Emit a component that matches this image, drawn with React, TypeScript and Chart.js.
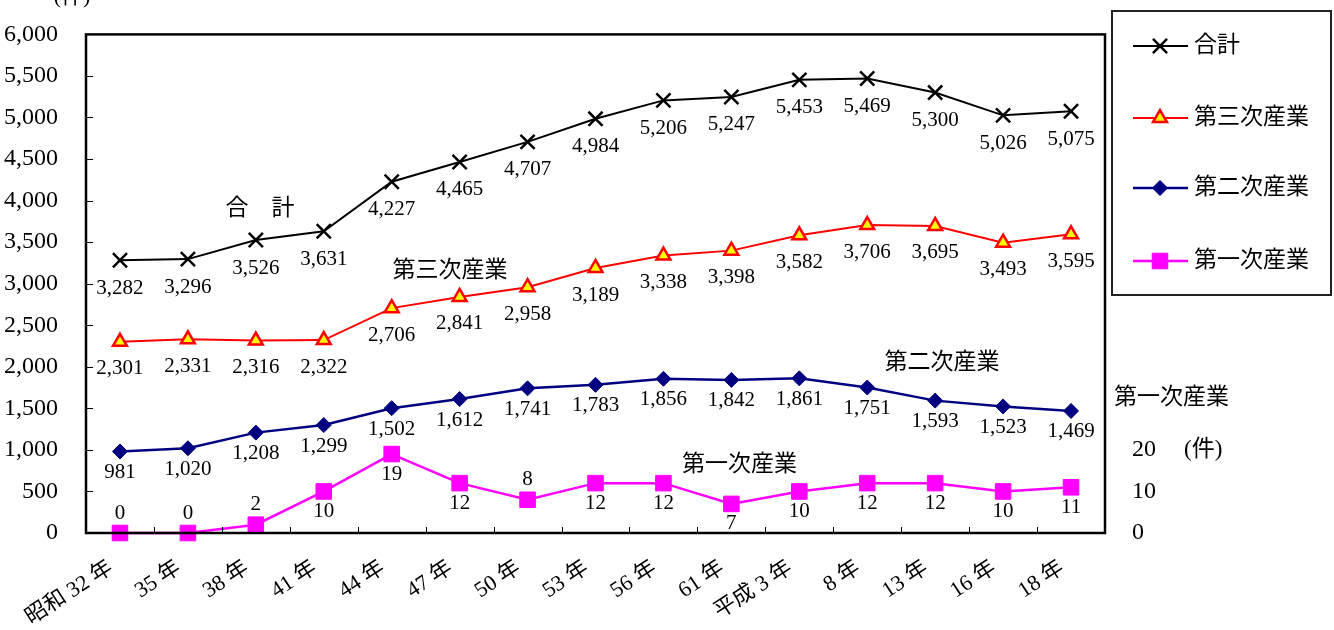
import React, { useEffect, useRef } from 'react';
import { Chart, registerables } from 'chart.js';
import { drawPoint } from 'chart.js/helpers';

Chart.register(...registerables);

const FONT = "'Liberation Serif', 'Noto Sans CJK JP', serif";

const categories = ['昭和 32 年', '35 年', '38 年', '41 年', '44 年', '47 年', '50 年', '53 年', '56 年', '61 年', '平成 3 年', '8 年', '13 年', '16 年', '18 年'];
const seriesNames = ['合計', '第三次産業', '第二次産業', '第一次産業'];
const totalValues = [3282, 3296, 3526, 3631, 4227, 4465, 4707, 4984, 5206, 5247, 5453, 5469, 5300, 5026, 5075];
const tertiaryValues = [2301, 2331, 2316, 2322, 2706, 2841, 2958, 3189, 3338, 3398, 3582, 3706, 3695, 3493, 3595];
const secondaryValues = [981, 1020, 1208, 1299, 1502, 1612, 1741, 1783, 1856, 1842, 1861, 1751, 1593, 1523, 1469];
const primaryValues = [0, 0, 2, 10, 19, 12, 8, 12, 12, 7, 10, 12, 12, 10, 11];
const leftAxisMax = 6000;
const leftAxisStep = 500;
const rightAxisMax = 120;
const rightAxisStep = 10;
const rightAxisShown = [0, 10, 20];
const rightAxisTitle = '第一次産業';
const unitLabel = '(件)';
const primaryLabelSide = ['above', 'above', 'above', 'below', 'below', 'below', 'above', 'below', 'below', 'below', 'below', 'below', 'below', 'below', 'below'];

// in-chart series name annotations, anchored in data space (category index, left-axis value)
const annotations = [
  { text: '合　計', index: 2.06, value: 3900 },
  { text: '第三次産業', index: 4.86, value: 3150 },
  { text: '第二次産業', index: 12.1, value: 2048 },
  { text: '第一次産業', index: 9.12, value: 814 },
];

const fmt = (v: number) => v.toLocaleString('en-US');

const framePlugin = {
  id: 'frame',
  afterDatasetsDraw(chart: any) {
    const { ctx, chartArea: a, scales } = chart;
    ctx.save();
    ctx.strokeStyle = '#000';
    ctx.lineWidth = 1;
    for (let v = leftAxisStep; v < leftAxisMax; v += leftAxisStep) {
      const y = Math.round(scales.y.getPixelForValue(v)) + 0.5;
      ctx.beginPath();
      ctx.moveTo(a.left, y);
      ctx.lineTo(a.left + 7, y);
      ctx.stroke();
    }
    for (let i = 0; i < categories.length - 1; i++) {
      const x = Math.round(scales.x.getPixelForValue(i + 0.5)) + 0.5;
      ctx.beginPath();
      ctx.moveTo(x, a.bottom);
      ctx.lineTo(x, a.bottom - 6);
      ctx.stroke();
    }
    ctx.lineWidth = 2.5;
    ctx.strokeRect(a.left, a.top, a.right - a.left, a.bottom - a.top);
    ctx.restore();
  },
};

const labelPlugin = {
  id: 'valueLabels',
  afterDatasetsDraw(chart: any) {
    const { ctx, scales } = chart;
    ctx.save();
    ctx.fillStyle = '#000';
    ctx.textAlign = 'center';
    ctx.textBaseline = 'middle';
    ctx.font = `21px ${FONT}`;
    chart.data.datasets.forEach((ds: any, di: number) => {
      const meta = chart.getDatasetMeta(di);
      meta.data.forEach((pt: any, i: number) => {
        const side = ds.labelSide ? ds.labelSide[i] : 'below';
        const off = side === 'above' ? -ds.labelAbove : ds.labelBelow;
        ctx.fillText(fmt(ds.data[i]), pt.x, pt.y + off);
      });
    });
    ctx.font = `23px ${FONT}`;
    annotations.forEach((an) => {
      ctx.fillText(an.text, scales.x.getPixelForValue(an.index), scales.y.getPixelForValue(an.value));
    });
    ctx.font = `22px ${FONT}`;
    ctx.textAlign = 'center';
    ctx.fillText(unitLabel, 72, -3);
    ctx.font = `23px ${FONT}`;
    ctx.textAlign = 'left';
    ctx.fillText(rightAxisTitle, 1114, scales.y1.getPixelForValue(32.5));
    ctx.fillText(unitLabel, 1184, scales.y1.getPixelForValue(20));
    ctx.restore();
  },
};

const legendPlugin = {
  id: 'boxLegend',
  afterDraw(chart: any) {
    const { ctx } = chart;
    ctx.save();
    ctx.strokeStyle = '#222';
    ctx.lineWidth = 2;
    ctx.strokeRect(1112, 11, 219, 284);
    const ys = [46, 118, 188, 261];
    chart.data.datasets.forEach((ds: any, i: number) => {
      const y = ys[i];
      ctx.strokeStyle = ds.borderColor;
      ctx.lineWidth = ds.borderWidth;
      ctx.beginPath();
      ctx.moveTo(1133, y);
      ctx.lineTo(1188, y);
      ctx.stroke();
      ctx.fillStyle = ds.pointBackgroundColor;
      ctx.strokeStyle = ds.pointBorderColor;
      ctx.lineWidth = ds.pointBorderWidth;
      drawPoint(ctx, { pointStyle: ds.pointStyle, radius: ds.pointRadius, borderWidth: ds.pointBorderWidth, rotation: 0 } as any, 1160, y);
      ctx.fillStyle = '#000';
      ctx.font = `23px ${FONT}`;
      ctx.textAlign = 'left';
      ctx.textBaseline = 'middle';
      ctx.fillText(ds.label, 1194, y);
    });
    ctx.restore();
  },
};

export default function App() {
  const ref = useRef<HTMLCanvasElement>(null);
  useEffect(() => {
    if (!ref.current) return;
    const chart = new Chart(ref.current, {
      type: 'line',
      data: {
        labels: categories,
        datasets: [
          {
            label: seriesNames[0], data: totalValues, yAxisID: 'y', clip: false,
            borderColor: '#000', borderWidth: 2, pointStyle: 'crossRot', pointRadius: 10,
            pointBorderColor: '#000', pointBackgroundColor: '#000', pointBorderWidth: 2.5,
            labelBelow: 28, labelAbove: 20,
          } as any,
          {
            label: seriesNames[1], data: tertiaryValues, yAxisID: 'y', clip: false,
            borderColor: '#ff0000', borderWidth: 2, pointStyle: 'triangle', pointRadius: 8,
            pointBorderColor: '#ff0000', pointBackgroundColor: '#ffff00', pointBorderWidth: 2.5,
            labelBelow: 27, labelAbove: 20,
          } as any,
          {
            label: seriesNames[2], data: secondaryValues, yAxisID: 'y', clip: false,
            borderColor: '#000080', borderWidth: 2.5, pointStyle: 'rectRot', pointRadius: 7.5,
            pointBorderColor: '#000080', pointBackgroundColor: '#000080', pointBorderWidth: 1,
            labelBelow: 21, labelAbove: 20,
          } as any,
          {
            label: seriesNames[3], data: primaryValues, yAxisID: 'y1', clip: false,
            borderColor: '#ff00ff', borderWidth: 2.5, pointStyle: 'rect', pointRadius: 11,
            pointBorderColor: '#ff00ff', pointBackgroundColor: '#ff00ff', pointBorderWidth: 1,
            labelBelow: 20, labelAbove: 20, labelSide: primaryLabelSide,
          } as any,
        ],
      },
      options: {
        responsive: false,
        animation: false,
        layout: { padding: { top: 32, left: 0, right: 0, bottom: 0 } },
        plugins: { legend: { display: false }, tooltip: { enabled: false } },
        elements: { line: { tension: 0 } },
        scales: {
          x: {
            offset: true,
            grid: { display: false },
            border: { display: false },
            ticks: {
              color: '#000', font: { family: FONT, size: 22 },
              minRotation: 33, maxRotation: 33, autoSkip: false, padding: 14, labelOffset: -9,
            },
            afterFit: (s: any) => { s.height = 97; },
          },
          y: {
            min: 0, max: leftAxisMax,
            grid: { display: false },
            border: { display: false },
            ticks: {
              stepSize: leftAxisStep, color: '#000', font: { family: FONT, size: 24 }, padding: 20,
              callback: (v: any) => fmt(Number(v)),
            },
            afterFit: (s: any) => { s.width = 86; },
          },
          y1: {
            position: 'right', min: 0, max: rightAxisMax,
            grid: { display: false },
            border: { display: false },
            ticks: {
              stepSize: rightAxisStep, color: '#000', font: { family: FONT, size: 24 }, padding: 19,
              callback: (v: any) => (rightAxisShown.includes(Number(v)) ? String(v) : ''),
            },
            afterFit: (s: any) => { s.width = 229; },
          },
        },
      },
      plugins: [framePlugin, labelPlugin, legendPlugin],
    });
    return () => chart.destroy();
  }, []);
  return (
    <div style={{ position: 'fixed', left: 0, top: 0, width: 1334, height: 630, background: '#fff' }}>
      <canvas ref={ref} width={1334} height={630} style={{ width: 1334, height: 630, display: 'block' }} />
    </div>
  );
}
